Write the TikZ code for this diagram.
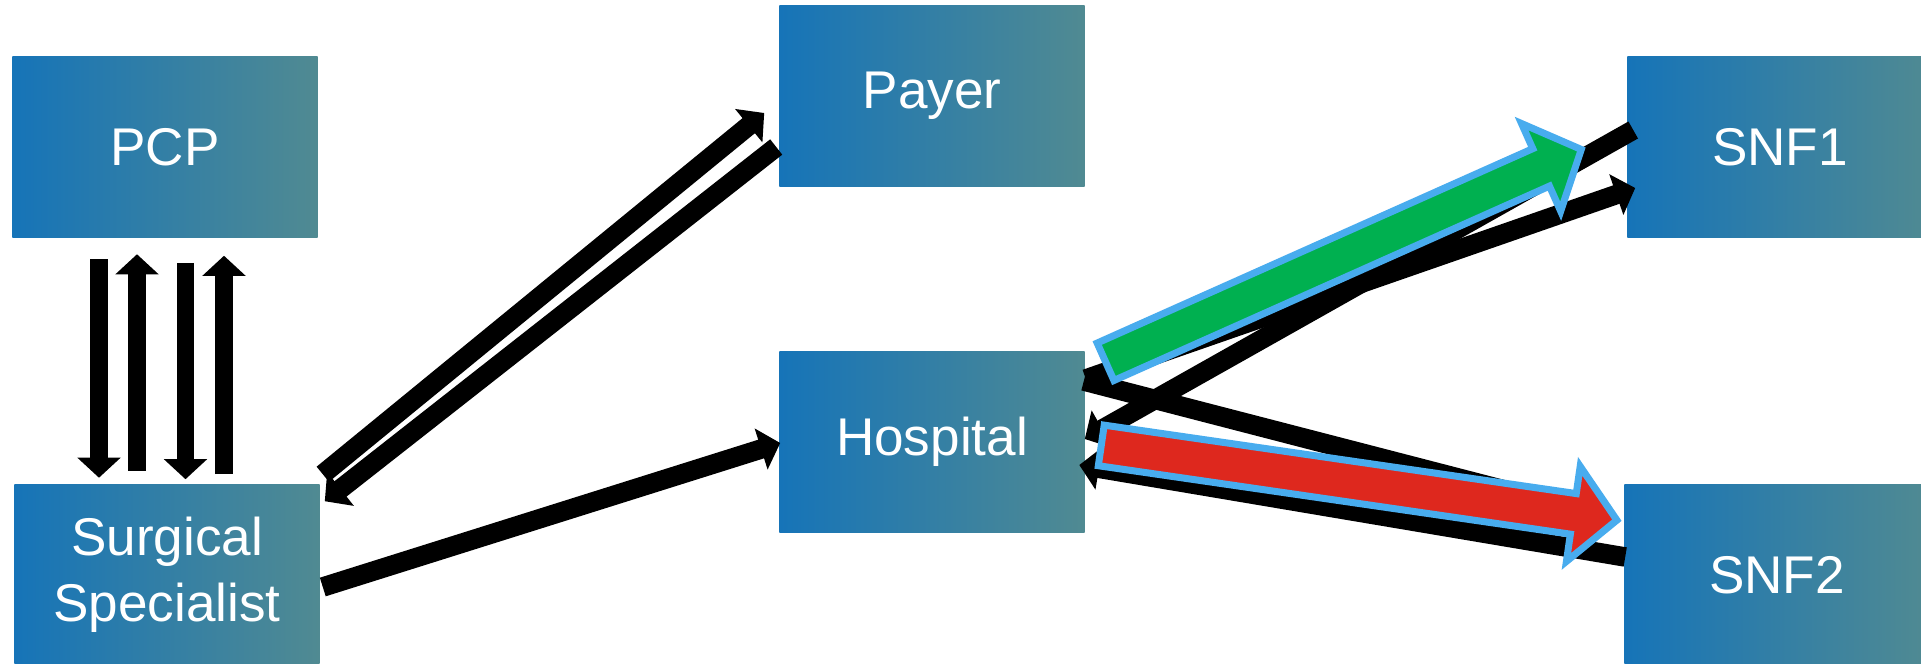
\documentclass[tikz,border=0pt]{standalone}
\usepackage{fontspec}
\setmainfont{Liberation Sans}
\usetikzlibrary{arrows.meta,calc}

\definecolor{boxL}{RGB}{22,116,184}
\definecolor{boxR}{RGB}{80,138,146}
\definecolor{fatgreen}{RGB}{0,176,80}
\definecolor{fatred}{RGB}{222,40,30}
\definecolor{rim}{RGB}{72,172,238}

\begin{document}
\begin{tikzpicture}[x=0.01cm, y=-0.01cm,
  box/.style={minimum width=3.05cm, minimum height=1.81cm, inner sep=0pt,
    left color=boxL, right color=boxR, text=white, align=center,
    font=\fontsize{15.1pt}{18.8pt}\selectfont},
  flow/.style={line width=0.195cm, -{Triangle[width=0.42cm,length=0.2cm]}},
  upright/.style={flow, line width=0.17cm},
  bare/.style={line width=0.195cm},
  fat/.style={draw=rim, line width=0.07cm, line join=miter},
]
\useasboundingbox (0,0) rectangle (1921,664);
\clip (0,0) rectangle (1921,664);
\fill[white] (0,0) rectangle (1921,664);

% parties
\node[box] (pcp)   at (165,147)  {PCP};
\node[box] (surg)  at (167,575)  {Surgical\\Specialist};
\node[box] (payer) at (932,96)   {Payer};
\node[box] (hosp)  at (932,442)  {Hospital};
\node[box] (snf1)  at (1780,147) {SNF1};
\node[box] (snf2)  at (1777,575) {SNF2};

% PCP <-> Surgical Specialist
\draw[upright] ($(pcp.south)+(-66,21)$)    -- ($(surg.north)+(-68,-6)$);
\draw[upright] ($(surg.north)+(-30,-13)$)  -- ($(pcp.south)+(-28,16)$);
\draw[upright] ($(pcp.south)+(20.5,24.5)$) -- ($(surg.north)+(18.5,-4.5)$);
\draw[upright] ($(surg.north)+(57,-9.5)$)  -- ($(pcp.south)+(59,17.5)$);

% Surgical Specialist <-> Payer
\draw[flow] ($(surg.north east)+(2.5,-9.5)$) -- ($(payer.west)+(-14.5,17)$);
\draw[flow] ($(payer.west)+(-2.5,51)$)       -- ($(surg.north east)+(4.5,17.5)$);

% Surgical Specialist -> Hospital
\draw[flow] ($(surg.east)+(2.5,12)$) -- ($(hosp.west)+(1.5,1)$);

% Hospital <-> SNF1
\draw[flow] ($(snf1.west)+(6.5,-17)$) -- ($(hosp.east)+(-0.5,-3)$);
\draw[flow] ($(hosp.east)+(0.5,-63)$) -- ($(snf1.west)+(8.5,41)$);

% Hospital <-> SNF2
\draw[bare] ($(hosp.east)+(-1.5,-61)$) -- ($(snf2.west)+(-26.5,-61)$);
\draw[flow] ($(snf2.west)+(1.5,-18)$)  -- ($(hosp.east)+(-6,23)$);

% highlighted discharge routes
\coordinate (gT) at ($(hosp.east)+(17.5,-79)$);
\coordinate (rT) at ($(hosp.east)+(13,3)$);
\begin{scope}[shift={(gT)}, rotate=24.05]
  \draw[fat, fill=fatgreen] (3,-20.5) -- (480,-20.5) -- (480,-48) -- (524,0)
    -- (480,48) -- (480,20.5) -- (3,20.5) -- cycle;
\end{scope}
\begin{scope}[shift={(rT)}, rotate=-8.25]
  \draw[fat, fill=fatred] (3,-20.5) -- (480,-20.5) -- (480,-48) -- (524,0)
    -- (480,48) -- (480,20.5) -- (3,20.5) -- cycle;
\end{scope}
\end{tikzpicture}
\end{document}
